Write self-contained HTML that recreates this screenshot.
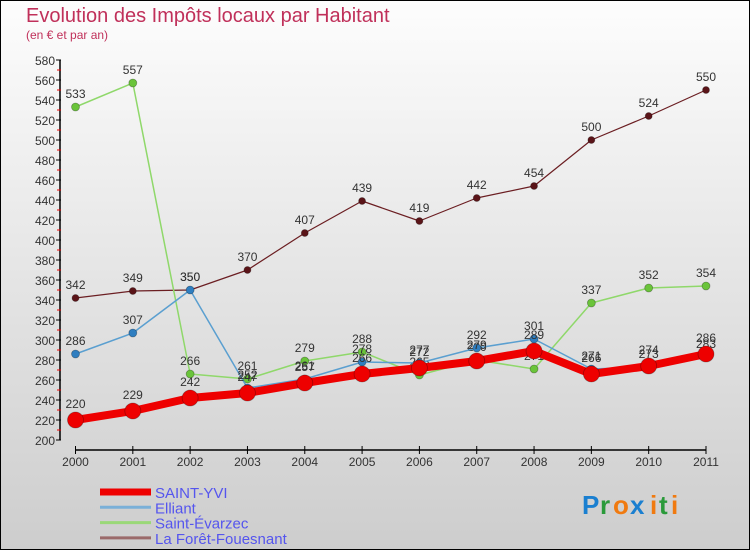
<!DOCTYPE html>
<html><head><meta charset="utf-8"><style>
html,body{margin:0;padding:0}
body{width:750px;height:550px;overflow:hidden;font-family:"Liberation Sans","DejaVu Sans",sans-serif}
svg text{font-family:"Liberation Sans","DejaVu Sans",sans-serif}
</style></head><body>
<svg id="chart" width="750" height="550" viewBox="0 0 750 550" xmlns="http://www.w3.org/2000/svg">
<defs><linearGradient id="bg" x1="0" y1="0" x2="0" y2="1"><stop offset="0" stop-color="#fdfdfd"/><stop offset="1" stop-color="#cdcdcd"/></linearGradient></defs>
<rect x="0.5" y="0.5" width="749" height="549" fill="url(#bg)" stroke="#000"/>
<text x="26" y="22" font-size="20" fill="#c0305a">Evolution des Impôts locaux par Habitant</text>
<text x="26" y="39" font-size="12" fill="#c0305a">(en € et par an)</text>
<g id="axes"></g>
<g id="series"></g>
<g id="legend"></g>
<g font-size="26" font-weight="bold">
<text x="582" y="514" fill="#1a7fd0">P</text><text x="600" y="514" fill="#2a9a3a">r</text><text x="613" y="514" fill="#f07a10">o</text><text x="630" y="514" fill="#1a7fd0">x</text><text x="650" y="514" fill="#f07a10">i</text><text x="659" y="514" fill="#2a9a3a">t</text><text x="671" y="514" fill="#f07a10">i</text>
</g>
</svg>
<script>
const years=["2000","2001","2002","2003","2004","2005","2006","2007","2008","2009","2010","2011"];
const yTicks=[200,220,240,260,280,300,320,340,360,380,400,420,440,460,480,500,520,540,560,580];
const seriesNames=["SAINT-YVI","Elliant","Saint-Évarzec","La Forêt-Fouesnant"];
const saintYvi=[220,229,242,247,257,266,272,279,289,266,274,286];
const elliant=[286,307,350,252,261,278,277,292,301,271,273,283];
const saintEvarzec=[533,557,266,261,279,288,265,280,271,337,352,354];
const laForet=[342,349,350,370,407,439,419,442,454,500,524,550];

const NS="http://www.w3.org/2000/svg";
const x0=75.5,x1=706,yMin=200,yMax=580,py0=440,py1=60;
function xs(i){return x0+(x1-x0)*i/(years.length-1);}
function ys(v){return py0-(v-yMin)*(py0-py1)/(yMax-yMin);}
function mk(tag,attrs,parent){const e=document.createElementNS(NS,tag);for(const k in attrs)e.setAttribute(k,attrs[k]);parent.appendChild(e);return e;}
const axes=document.getElementById('axes');
const ya=mk('line',{x1:60,y1:py1,x2:60,y2:py0,stroke:'#000','stroke-width':1.5},axes);


yTicks.forEach(v=>{
  mk('line',{x1:56,y1:ys(v),x2:61,y2:ys(v),stroke:'#000'},axes);
  if(v<yMax) mk('line',{x1:57,y1:ys(v+10),x2:61,y2:ys(v+10),stroke:'#e00'},axes);
  const t=mk('text',{x:55,y:ys(v)+5,'text-anchor':'end','font-size':12,fill:'#333'},axes);
  t.textContent=v;
  
  
});
const xa=mk('line',{x1:x0,y1:450,x2:x1,y2:450,stroke:'#000','stroke-width':1.5},axes);


years.forEach((y,i)=>{
  mk('line',{x1:xs(i),y1:446,x2:xs(i),y2:454,stroke:'#000'},axes);
  const t=mk('text',{x:xs(i),y:466,'text-anchor':'middle','font-size':12,fill:'#333'},axes);
  t.textContent=y;
  
  
});
const sg=document.getElementById('series');
const defs=[
 {d:laForet,c:'#6b1e22',pc:'#5a1418',w:1.2,r:3.5,name:'series-la-foret-fouesnant'},
 {d:saintEvarzec,c:'#8fd86a',pc:'#6ac43a',w:1.5,r:4,name:'series-saint-evarzec'},
 {d:elliant,c:'#5a9fd0',pc:'#2f7ec0',w:1.5,r:4,name:'series-elliant'},
 {d:saintYvi,c:'#ee0000',pc:'#ee0000',w:8,r:8,name:'series-saint-yvi'}
];
defs.forEach(s=>{
  const g=mk('g',{},sg);
  
  
  mk('polyline',{points:s.d.map((v,i)=>xs(i)+','+ys(v)).join(' '),fill:'none',stroke:s.c,'stroke-width':s.w,'stroke-linejoin':'round'},g);
  s.d.forEach((v,i)=>{
    const p=mk('circle',{cx:xs(i),cy:ys(v),r:s.r,fill:s.pc,stroke:'rgba(0,0,0,0.3)','stroke-width':0.8},g);
    
    
    const t=mk('text',{x:xs(i),y:ys(v)-(s.r>5?12:9),'text-anchor':'middle','font-size':12,fill:'#333'},g);
    t.textContent=v;
    
    
  });
});
const lg=document.getElementById('legend');
const lcol=['#ee0000','#7ab0d8','#9ad878','#9a6a6a'];
const lw=[7,3,3,3];
seriesNames.forEach((n,i)=>{
  const y=492+i*15.3;
  const g=mk('g',{},lg);
  
  
  mk('line',{x1:100,y1:y,x2:151,y2:y,stroke:lcol[i],'stroke-width':lw[i]},g);
  const t=mk('text',{x:155,y:y+6,'font-size':15,fill:'#5555ee'},g);
  t.textContent=n;
});
</script>
</body></html>
